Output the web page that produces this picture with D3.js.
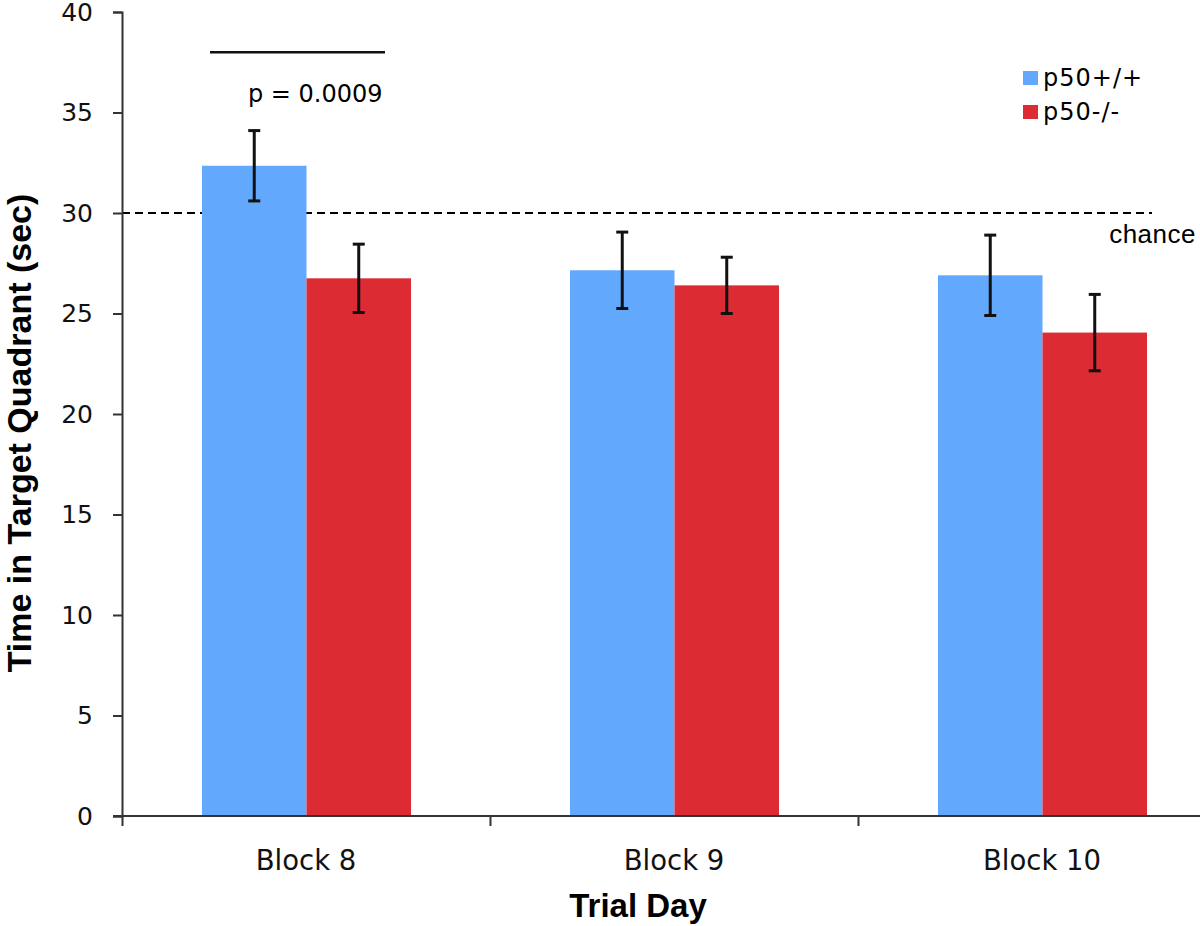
<!DOCTYPE html>
<html lang="en">
<head>
  <meta charset="UTF-8">
  <title>Time in Target Quadrant</title>
  <style>
    body { margin: 0; background: #fff; }
    svg { display: block; }
  </style>
</head>
<body>
  <svg width="1200" height="926"></svg>
  <script src="https://cdn.jsdelivr.net/npm/d3@7"></script>
  <script>
    var blocks = ['Block 8', 'Block 9', 'Block 10']
    var groups = ['p50+/+', 'p50-/-']
    var wildType = [32.35, 27.15, 26.9]
    var wildErr = [1.75, 1.9, 2.0]
    var knockout = [26.75, 26.4, 24.05]
    var knockErr = [1.7, 1.4, 1.9]
    var yTicks = [0, 5, 10, 15, 20, 25, 30, 35, 40]
    var chance = 30
    var sigLevel = 38
    var pLabel = 'p = 0.0009'

    var colors = ['#62a8fd', '#dc2b33']

    var svg = d3.select('svg')
    var plotLeft = 122, plotTop = 12, plotBottom = 816, groupWidth = 368

    var y = d3.scaleLinear().domain([0, 40]).range([plotBottom, plotTop])
    var x = d3.scaleBand().domain(blocks)
      .range([plotLeft, plotLeft + groupWidth * blocks.length])
    var xSub = d3.scaleBand().domain(groups).range([80, 289])

    var rows = blocks.map(function(b, i) {
      return [
        { block: b, group: groups[0], value: wildType[i], err: wildErr[i] },
        { block: b, group: groups[1], value: knockout[i], err: knockErr[i] }
      ]
    })

    // chance line sits behind the bars
    svg.append('line')
      .attr('x1', plotLeft).attr('x2', x('Block 10') + 294)
      .attr('y1', y(chance)).attr('y2', y(chance))
      .attr('stroke', '#000').attr('stroke-width', 2)
      .attr('stroke-dasharray', '8,5')

    svg.append('text')
      .attr('x', 1196).attr('y', 243)
      .attr('text-anchor', 'end')
      .attr('font-family', 'Liberation Sans, Arial, sans-serif')
      .attr('font-size', 26)
      .attr('letter-spacing', 0.5)
      .text('chance')

    var g = svg.selectAll('.block')
      .data(rows)
      .enter()
      .append('g')
      .attr('class', 'block')
      .attr('transform', function(d) { return 'translate(' + x(d[0].block) + ',0)' })

    g.selectAll('rect')
      .data(function(d) { return d })
      .enter()
      .append('rect')
      .attr('x', function(d) { return xSub(d.group) })
      .attr('width', xSub.bandwidth())
      .attr('y', function(d) { return y(d.value) })
      .attr('height', function(d) { return y(0) - y(d.value) })
      .attr('fill', function(d, i) { return colors[i] })

    // error bars
    var eb = g.selectAll('.err')
      .data(function(d) { return d })
      .enter()
      .append('g')
      .attr('class', 'err')
      .attr('stroke', '#111')
      .attr('stroke-width', 3)
    var cx = function(d) { return xSub(d.group) + xSub.bandwidth() / 2 }
    eb.append('line')
      .attr('x1', cx).attr('x2', cx)
      .attr('y1', function(d) { return y(d.value + d.err) })
      .attr('y2', function(d) { return y(d.value - d.err) })
    eb.append('line')
      .attr('x1', function(d) { return cx(d) - 6 }).attr('x2', function(d) { return cx(d) + 6 })
      .attr('y1', function(d) { return y(d.value + d.err) })
      .attr('y2', function(d) { return y(d.value + d.err) })
    eb.append('line')
      .attr('x1', function(d) { return cx(d) - 6 }).attr('x2', function(d) { return cx(d) + 6 })
      .attr('y1', function(d) { return y(d.value - d.err) })
      .attr('y2', function(d) { return y(d.value - d.err) })

    // y axis
    var yAxis = svg.append('g')
      .attr('transform', 'translate(' + plotLeft + ',0)')
      .call(d3.axisLeft(y).tickValues(yTicks).tickSize(9).tickPadding(20))
    yAxis.selectAll('text')
      .attr('font-family', 'DejaVu Sans, Verdana, sans-serif')
      .attr('font-size', 25)
      .attr('fill', '#111')

    // x axis: boundary ticks + category labels
    var xEdge = d3.scaleLinear().domain([0, blocks.length])
      .range([plotLeft, plotLeft + groupWidth * blocks.length])
    var xAxis = svg.append('g')
      .attr('transform', 'translate(0,' + plotBottom + ')')
      .call(d3.axisBottom(xEdge).tickValues(d3.range(blocks.length + 1)).tickSize(10).tickFormat(''))
    xAxis.select('.domain').attr('d', 'M' + (plotLeft - 9) + ',0H1200')
    svg.append('g')
      .attr('transform', 'translate(0,' + plotBottom + ')')
      .call(d3.axisBottom(x).tickSize(0).tickPadding(34))
      .call(function(a) { a.select('.domain').remove() })
      .selectAll('text')
      .attr('font-family', 'DejaVu Sans, Verdana, sans-serif')
      .attr('font-size', 27.5)
      .attr('fill', '#111')

    svg.selectAll('.domain, .tick line')
      .attr('stroke', '#333').attr('stroke-width', 2)

    // significance bar
    svg.append('line')
      .attr('x1', x('Block 8') + 88).attr('x2', x('Block 8') + 263)
      .attr('y1', y(sigLevel)).attr('y2', y(sigLevel))
      .attr('stroke', '#111').attr('stroke-width', 2.5)
    svg.append('text')
      .attr('x', x('Block 8') + 126).attr('y', 102)
      .attr('font-family', 'DejaVu Sans, Verdana, sans-serif')
      .attr('font-size', 24)
      .text(pLabel)

    // axis titles
    svg.append('text')
      .attr('x', 638).attr('y', 917)
      .attr('text-anchor', 'middle')
      .attr('font-family', 'Liberation Sans, Arial, sans-serif')
      .attr('font-weight', 'bold')
      .attr('font-size', 33)
      .text('Trial Day')
    svg.append('text')
      .attr('transform', 'translate(31,433) rotate(-90)')
      .attr('text-anchor', 'middle')
      .attr('font-family', 'Liberation Sans, Arial, sans-serif')
      .attr('font-weight', 'bold')
      .attr('font-size', 34)
      .text('Time in Target Quadrant (sec)')

    // legend
    var legend = svg.selectAll('.legend')
      .data(groups)
      .enter()
      .append('g')
      .attr('class', 'legend')
      .attr('transform', function(d, i) { return 'translate(1023,' + (71 + i * 34) + ')' })
    legend.append('rect')
      .attr('width', 15).attr('height', 14)
      .attr('fill', function(d, i) { return colors[i] })
    legend.append('text')
      .attr('x', 20).attr('y', 15)
      .attr('font-family', 'DejaVu Sans, Verdana, sans-serif')
      .attr('font-size', 24)
      .attr('letter-spacing', 1)
      .text(function(d) { return d })
  </script>
</body>
</html>
